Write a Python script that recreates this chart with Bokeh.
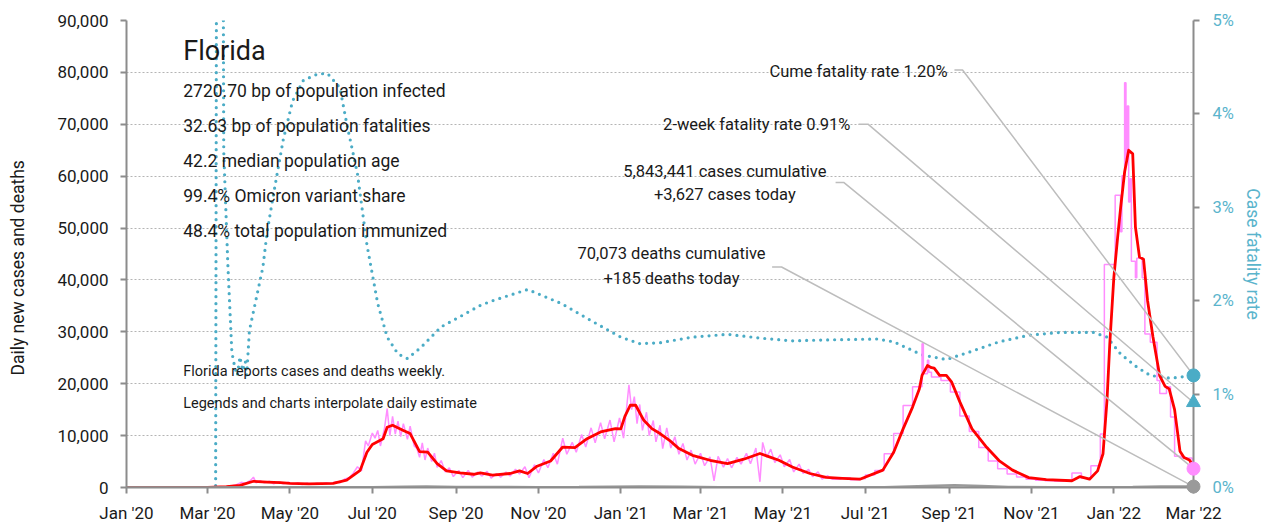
import math
import pandas as pd
from bokeh.plotting import figure
from bokeh.models import (Range1d, LinearAxis, FixedTicker, MonthsTicker, DatetimeTickFormatter,
                          NumeralTickFormatter, PrintfTickFormatter, Label)
from bokeh.core.properties import value
from bokeh.embed import file_html
from bokeh.resources import INLINE

FONT = "Roboto"
BLUE = "#4bacc6"
PINK = "#ff8dff"
RED = "#ff0000"
GREY = "#9a9a9a"
LEAD = "#bdbdbd"
AXIS = "#8c8c8c"
TXT = "#1a1a1a"

# ---------------- data ----------------
state = "Florida"
stats = ["2720.70 bp of population infected",
         "32.63 bp of population fatalities",
         "42.2 median population age",
         "99.4% Omicron variant share",
         "48.4% total population immunized"]
notes = ["Florida reports cases and deaths weekly.",
         "Legends and charts interpolate daily estimate"]
y_axis_title = "Daily new cases and deaths"
last_date = "2022-03-01"
cases_cumulative = "5,843,441"
cases_today = 3627
deaths_cumulative = "70,073"
deaths_today = 185
cfr_cume = 1.20
cfr_2week = 0.91

# 7-day average of daily new cases
cases_avg = [
    ("2020-01-01", 0), ("2020-03-01", 0), ("2020-03-15", 150), ("2020-03-25", 400),
    ("2020-04-04", 1200), ("2020-04-14", 1050), ("2020-04-24", 950), ("2020-05-01", 800),
    ("2020-05-15", 700), ("2020-06-02", 780), ("2020-06-12", 1400), ("2020-06-22", 3300),
    ("2020-06-27", 6800), ("2020-07-01", 8300), ("2020-07-09", 9400), ("2020-07-12", 11600),
    ("2020-07-16", 12000), ("2020-07-24", 11000), ("2020-07-29", 10400), ("2020-08-05", 6900),
    ("2020-08-11", 6800), ("2020-08-18", 4600), ("2020-08-25", 3200), ("2020-09-04", 2800),
    ("2020-09-14", 2550), ("2020-09-19", 2800), ("2020-09-28", 2400), ("2020-10-11", 2700),
    ("2020-10-18", 3200), ("2020-10-24", 2700), ("2020-10-31", 4100), ("2020-11-10", 5100),
    ("2020-11-19", 7800), ("2020-11-28", 7700), ("2020-12-07", 9400), ("2020-12-17", 10700),
    ("2020-12-28", 11350), ("2021-01-01", 11300), ("2021-01-04", 13700), ("2021-01-08", 15850),
    ("2021-01-12", 15850), ("2021-01-18", 12950), ("2021-01-24", 11350), ("2021-01-30", 10400),
    ("2021-02-06", 9100), ("2021-02-13", 7500), ("2021-02-23", 6200), ("2021-03-08", 5250),
    ("2021-03-21", 4600), ("2021-04-02", 5450), ("2021-04-14", 6550), ("2021-04-21", 5900),
    ("2021-04-28", 5250), ("2021-05-08", 3950), ("2021-05-21", 2700), ("2021-06-02", 1950),
    ("2021-06-14", 1750), ("2021-06-27", 1600), ("2021-07-14", 3350), ("2021-07-22", 6800),
    ("2021-07-29", 11300), ("2021-08-05", 15500), ("2021-08-10", 19000), ("2021-08-12", 21600),
    ("2021-08-16", 23500), ("2021-08-19", 23100), ("2021-08-21", 23000), ("2021-08-25", 21600),
    ("2021-08-30", 21600), ("2021-09-03", 20300), ("2021-09-09", 16500), ("2021-09-18", 11300),
    ("2021-09-29", 7700), ("2021-10-08", 5200), ("2021-10-18", 3350), ("2021-10-30", 1900),
    ("2021-11-12", 1500), ("2021-12-01", 1300), ("2021-12-07", 2100), ("2021-12-14", 1600),
    ("2021-12-20", 3200), ("2021-12-24", 6500), ("2021-12-27", 17000), ("2021-12-29", 27600),
    ("2022-01-01", 40400), ("2022-01-04", 48700), ("2022-01-06", 53800), ("2022-01-09", 60800),
    ("2022-01-12", 65000), ("2022-01-15", 64300), ("2022-01-17", 50200), ("2022-01-20", 44400),
    ("2022-01-23", 44000), ("2022-01-26", 36000), ("2022-01-30", 29000), ("2022-02-04", 21500),
    ("2022-02-08", 19500), ("2022-02-11", 19000), ("2022-02-15", 15000), ("2022-02-19", 7000),
    ("2022-02-22", 5800), ("2022-02-26", 5300), ("2022-03-01", 4000),
]

# daily new cases (noisy daily period)
cases_daily = [
    ("2020-01-01", 0), ("2020-03-08", 20), ("2020-03-12", 80), ("2020-03-16", 150),
    ("2020-03-19", 350), ("2020-03-22", 500), ("2020-03-26", 1000), ("2020-03-29", 800),
    ("2020-04-02", 1400), ("2020-04-04", 2000), ("2020-04-06", 900), ("2020-04-09", 1300),
    ("2020-04-12", 900), ("2020-04-16", 1200), ("2020-04-19", 700), ("2020-04-23", 1100),
    ("2020-04-26", 700), ("2020-04-30", 1000), ("2020-05-03", 600), ("2020-05-07", 900),
    ("2020-05-10", 550), ("2020-05-14", 850), ("2020-05-17", 600), ("2020-05-21", 800),
    ("2020-05-24", 650), ("2020-05-28", 900), ("2020-05-31", 700), ("2020-06-04", 1100),
    ("2020-06-07", 900), ("2020-06-11", 1700), ("2020-06-14", 1900), ("2020-06-17", 2800),
    ("2020-06-20", 4000), ("2020-06-23", 3200), ("2020-06-26", 9000), ("2020-06-28", 8000),
    ("2020-07-01", 10500), ("2020-07-03", 9500), ("2020-07-05", 11000), ("2020-07-07", 8000),
    ("2020-07-10", 11400), ("2020-07-12", 15200), ("2020-07-14", 10000), ("2020-07-16", 13700),
    ("2020-07-18", 10300), ("2020-07-20", 12800), ("2020-07-22", 9800), ("2020-07-24", 12300),
    ("2020-07-27", 9300), ("2020-07-29", 11800), ("2020-08-01", 8000), ("2020-08-03", 7500),
    ("2020-08-05", 5800), ("2020-08-07", 8600), ("2020-08-09", 5300), ("2020-08-11", 7600),
    ("2020-08-14", 5000), ("2020-08-16", 6600), ("2020-08-18", 3900), ("2020-08-21", 5200),
    ("2020-08-24", 3000), ("2020-08-27", 3800), ("2020-08-30", 2100), ("2020-09-03", 3300),
    ("2020-09-06", 1900), ("2020-09-10", 3300), ("2020-09-13", 2000), ("2020-09-17", 3000),
    ("2020-09-20", 2200), ("2020-09-24", 3100), ("2020-09-27", 1800), ("2020-10-01", 2700),
    ("2020-10-04", 2000), ("2020-10-08", 3000), ("2020-10-11", 2200), ("2020-10-15", 3500),
    ("2020-10-18", 2600), ("2020-10-22", 4000), ("2020-10-25", 1900), ("2020-10-29", 4400),
    ("2020-11-01", 2800), ("2020-11-05", 5400), ("2020-11-08", 3800), ("2020-11-12", 6600),
    ("2020-11-15", 4500), ("2020-11-19", 9500), ("2020-11-22", 6400), ("2020-11-26", 8700),
    ("2020-11-29", 6800), ("2020-12-03", 10200), ("2020-12-06", 7800), ("2020-12-10", 11500),
    ("2020-12-13", 8600), ("2020-12-17", 12500), ("2020-12-20", 9400), ("2020-12-24", 13000),
    ("2020-12-27", 8800), ("2020-12-31", 13400), ("2021-01-03", 9500), ("2021-01-07", 19800),
    ("2021-01-09", 15000), ("2021-01-11", 17500), ("2021-01-13", 12300), ("2021-01-15", 16000),
    ("2021-01-17", 11000), ("2021-01-20", 14500), ("2021-01-22", 10000), ("2021-01-25", 12900),
    ("2021-01-27", 8800), ("2021-01-30", 12000), ("2021-02-01", 7500), ("2021-02-04", 11500),
    ("2021-02-07", 7600), ("2021-02-10", 9800), ("2021-02-13", 6400), ("2021-02-16", 8500),
    ("2021-02-19", 5300), ("2021-02-22", 7200), ("2021-02-25", 4500), ("2021-03-01", 6600),
    ("2021-03-04", 4200), ("2021-03-08", 5900), ("2021-03-11", 1300), ("2021-03-14", 6000),
    ("2021-03-18", 3900), ("2021-03-21", 5600), ("2021-03-24", 3800), ("2021-03-28", 5800),
    ("2021-03-31", 4500), ("2021-04-04", 6600), ("2021-04-07", 4600), ("2021-04-11", 7600),
    ("2021-04-14", 1100), ("2021-04-16", 8700), ("2021-04-19", 5800), ("2021-04-22", 7400),
    ("2021-04-25", 4800), ("2021-04-29", 6300), ("2021-05-02", 4000), ("2021-05-06", 5400),
    ("2021-05-09", 3000), ("2021-05-13", 4500), ("2021-05-16", 2700), ("2021-05-20", 3500),
    ("2021-05-23", 2100), ("2021-05-27", 3000), ("2021-05-30", 1600), ("2021-06-03", 2300),
    ("2021-06-06", 1600),
]

# daily new cases (weekly-reporting period, interpolated steps)
cases_weekly = [
    ("2021-06-06", 1600), ("2021-06-13", 1900), ("2021-06-20", 1500), ("2021-06-27", 1700),
    ("2021-07-01", 2400), ("2021-07-08", 3300), ("2021-07-15", 6500), ("2021-07-22", 10400),
    ("2021-07-29", 15800), ("2021-08-05", 19400), ("2021-08-12", 27700), ("2021-08-13", 21900),
    ("2021-08-16", 24500), ("2021-08-17", 22200), ("2021-08-19", 21300), ("2021-08-26", 20600),
    ("2021-09-02", 18400), ("2021-09-09", 13800), ("2021-09-16", 10800), ("2021-09-23", 7700),
    ("2021-09-30", 5100), ("2021-10-07", 3600), ("2021-10-14", 2600), ("2021-10-21", 2000),
    ("2021-10-28", 1600), ("2021-11-04", 1400), ("2021-11-11", 1300), ("2021-11-18", 1200),
    ("2021-11-25", 1300), ("2021-12-01", 2800), ("2021-12-08", 1800), ("2021-12-15", 4200),
    ("2021-12-22", 10300), ("2021-12-25", 43000), ("2022-01-02", 56300), ("2022-01-06", 49300),
    ("2022-01-07", 60100), ("2022-01-09", 78000), ("2022-01-10", 63300), ("2022-01-11", 73500),
    ("2022-01-12", 55000), ("2022-01-13", 59500), ("2022-01-14", 43600), ("2022-01-17", 40400),
    ("2022-01-18", 44200), ("2022-01-22", 40400), ("2022-01-24", 29600), ("2022-01-28", 28000),
    ("2022-02-02", 20600), ("2022-02-04", 18100), ("2022-02-09", 19400), ("2022-02-12", 13600),
    ("2022-02-15", 6000), ("2022-02-20", 5700), ("2022-02-28", 4100), ("2022-03-01", 3627),
]

# daily deaths
deaths_daily = [
    ("2020-01-01", 0), ("2020-03-10", 0), ("2020-04-10", 40), ("2020-05-01", 45),
    ("2020-06-01", 35), ("2020-07-01", 50), ("2020-07-25", 150), ("2020-08-10", 180),
    ("2020-09-01", 110), ("2020-10-01", 90), ("2020-11-01", 50), ("2020-12-01", 80),
    ("2021-01-15", 170), ("2021-02-15", 130), ("2021-03-15", 70), ("2021-04-15", 60),
    ("2021-05-15", 50), ("2021-06-15", 40), ("2021-07-15", 60), ("2021-08-15", 300),
    ("2021-09-05", 450), ("2021-09-25", 300), ("2021-10-15", 120), ("2021-11-15", 50),
    ("2021-12-15", 30), ("2022-01-15", 100), ("2022-02-05", 200), ("2022-03-01", 185),
]

# case fatality rate, percent
cfr = [
    ("2020-01-01", 0.0), ("2020-03-07", 0.0), ("2020-03-08", 9.0), ("2020-03-12", 9.0),
    ("2020-03-13", 3.6), ("2020-03-16", 2.4), ("2020-03-19", 1.45), ("2020-03-21", 1.3),
    ("2020-03-23", 1.2), ("2020-03-25", 1.4), ("2020-03-27", 1.25), ("2020-03-29", 1.35),
    ("2020-03-30", 1.2), ("2020-04-01", 1.68), ("2020-04-11", 2.36), ("2020-04-14", 2.72),
    ("2020-04-18", 3.07), ("2020-04-26", 3.72), ("2020-05-03", 4.14), ("2020-05-11", 4.36),
    ("2020-05-22", 4.43), ("2020-05-29", 4.43), ("2020-06-07", 4.28), ("2020-06-12", 3.9),
    ("2020-06-20", 3.36), ("2020-06-27", 2.6), ("2020-07-05", 1.97), ("2020-07-12", 1.61),
    ("2020-07-20", 1.43), ("2020-07-27", 1.38), ("2020-08-06", 1.5), ("2020-08-21", 1.72),
    ("2020-09-04", 1.83), ("2020-09-19", 1.95), ("2020-09-28", 2.0), ("2020-10-24", 2.12),
    ("2020-11-18", 1.97), ("2020-12-12", 1.77), ("2021-01-01", 1.61), ("2021-01-15", 1.54),
    ("2021-01-30", 1.55), ("2021-02-23", 1.61), ("2021-03-21", 1.64), ("2021-04-14", 1.6),
    ("2021-05-08", 1.57), ("2021-06-02", 1.58), ("2021-07-10", 1.59), ("2021-07-22", 1.56),
    ("2021-08-12", 1.42), ("2021-08-30", 1.37), ("2021-09-16", 1.45), ("2021-10-08", 1.56),
    ("2021-10-30", 1.63), ("2021-11-22", 1.66), ("2021-12-17", 1.66), ("2021-12-27", 1.61),
    ("2022-01-06", 1.43), ("2022-01-18", 1.29), ("2022-01-28", 1.2), ("2022-02-12", 1.17),
    ("2022-03-01", 1.2),
]

y_ticks = [0, 10000, 20000, 30000, 40000, 50000, 60000, 70000, 80000, 90000]
cfr_ticks = [0, 1, 2, 3, 4, 5]


def cols(pairs):
    return pd.to_datetime([d for d, _ in pairs]), [v for _, v in pairs]


def ms(s):
    return pd.Timestamp(s).value / 1e6


# ---------------- figure ----------------
p = figure(width=1270, height=527, x_axis_type="datetime", output_backend="svg",
           toolbar_location=None,
           x_range=Range1d(ms("2020-01-01"), ms("2022-03-01")),
           y_range=Range1d(0, 90000),
           min_border_left=126, min_border_right=77, min_border_top=20, min_border_bottom=40)
p.outline_line_color = None
p.background_fill_color = "white"
p.extra_y_ranges = {"cfr": Range1d(0, 5)}

# axes
p.yaxis.ticker = FixedTicker(ticks=y_ticks)
p.yaxis.formatter = NumeralTickFormatter(format="0,0")
p.xaxis.ticker = MonthsTicker(months=[0, 2, 4, 6, 8, 10])
p.xaxis.formatter = DatetimeTickFormatter(months="%b '%y", days="%b '%y", years="%b '%y")

right = LinearAxis(y_range_name="cfr", ticker=FixedTicker(ticks=cfr_ticks),
                   formatter=PrintfTickFormatter(format="%d%%"),
                   axis_label="Case fatality rate")
p.add_layout(right, "right")

for ax in [p.xaxis[0], p.yaxis[0], right]:
    ax.axis_line_color = AXIS
    ax.axis_line_width = 2
    ax.major_tick_line_color = AXIS
    ax.major_tick_line_width = 2
    ax.major_tick_out = 6
    ax.major_tick_in = 0
    ax.minor_tick_line_color = None
    ax.major_label_text_font = FONT
    ax.major_label_text_font_size = "17px"
    ax.major_label_text_color = TXT
    ax.axis_label_text_font = FONT
    ax.axis_label_text_font_size = "17.5px"
    ax.axis_label_text_font_style = "normal"
    ax.axis_label_text_color = TXT

p.yaxis.major_label_standoff = 12
p.xaxis.major_label_standoff = 9
right.major_label_standoff = 13
right.axis_label_standoff = 6
right.major_label_text_font_size = "16.5px"
right.major_label_text_color = "#5ab4cc"
right.axis_label_text_color = "#5ab4cc"

p.xgrid.grid_line_color = None
p.ygrid.ticker = FixedTicker(ticks=y_ticks)
p.ygrid.grid_line_color = "#b4b4b4"
p.ygrid.grid_line_dash = "2 2"
p.ygrid.grid_line_width = 1

# ---------------- series ----------------
x, y = cols(cfr)
p.line(x, y, y_range_name="cfr", color=BLUE, line_width=3.2, line_dash="0 7",
       line_cap="round")

x, y = cols(cases_daily)
p.line(x, y, color=PINK, line_width=1.5)
x, y = cols(cases_weekly)
p.step(x, y, mode="after", color=PINK, line_width=1.5)

x, y = cols(cases_avg)
p.line(x, y, color=RED, line_width=2.8, line_join="round")

x, y = cols(deaths_daily)
p.line(x, y, color=GREY, line_width=2.5)

# ---------------- leader lines & end markers ----------------
end = pd.to_datetime([last_date])[0]
leaders = [
    (("2021-09-05", "2021-09-11"), 4.47, cfr_cume, "cfr"),
    (("2021-06-26", "2021-07-03"), 3.89, cfr_2week, "cfr"),
    (("2021-06-09", "2021-06-15"), 58800, cases_today, "default"),
    (("2021-04-23", "2021-04-30"), 42500, deaths_today, "default"),
]
for (d0, d1), y0, y1, rng in leaders:
    p.line(pd.to_datetime([d0, d1, last_date]), [y0, y0, y1], y_range_name=rng,
           color=LEAD, line_width=1.5)

marks = [
    p.scatter([end], [cfr_cume], y_range_name="cfr", marker="circle", size=13, color=BLUE),
    p.scatter([end], [cfr_2week], y_range_name="cfr", marker="triangle", size=14, color=BLUE),
    p.scatter([end], [cases_today], marker="circle", size=13, color=PINK),
    p.scatter([end], [deaths_today], marker="circle", size=13, color=GREY),
]
for r in marks:
    r.level = "overlay"

# left axis title, drawn outside the frame at overlay level (placed a bit low, as in the reference)
ttl = p.text(x=pd.to_datetime(["2019-10-13"]), y=[42330], text=[y_axis_title],
             angle=math.pi / 2, text_align="center", text_baseline="middle",
             text_font=value(FONT), text_font_size="17.5px", text_color=TXT)
ttl.level = "overlay"


# ---------------- texts ----------------
def label(x, y, text, size, align="left", color=TXT):
    p.add_layout(Label(x=ms(x), y=y, text=text, text_font=FONT, text_font_size=size,
                       text_color=color, text_align=align, text_baseline="middle"))


label("2020-02-12", 84130, state, "27px")
for s, yy in zip(stats, [76330, 69590, 62850, 56110, 49370]):
    label("2020-02-12", yy, s, "17.5px")
label("2020-02-12", 22300, notes[0], "14.5px")
label("2020-02-12", 16140, notes[1], "14.5px")

label("2021-08-31", 80080, f"Cume fatality rate {cfr_cume:.2f}%", "16.5px", "right")
label("2021-06-20", 69870, f"2-week fatality rate {cfr_2week:.2f}%", "16.5px", "right")
label("2021-03-19", 60820, f"{cases_cumulative} cases cumulative", "16.5px", "center")
label("2021-03-19", 56390, f"+{cases_today:,} cases today", "16.5px", "center")
label("2021-02-07 12:00", 45130, f"{deaths_cumulative} deaths cumulative", "16.5px", "center")
label("2021-02-07 12:00", 40310, f"+{deaths_today} deaths today", "16.5px", "center")

open("out.html", "w").write(file_html(p, INLINE))
